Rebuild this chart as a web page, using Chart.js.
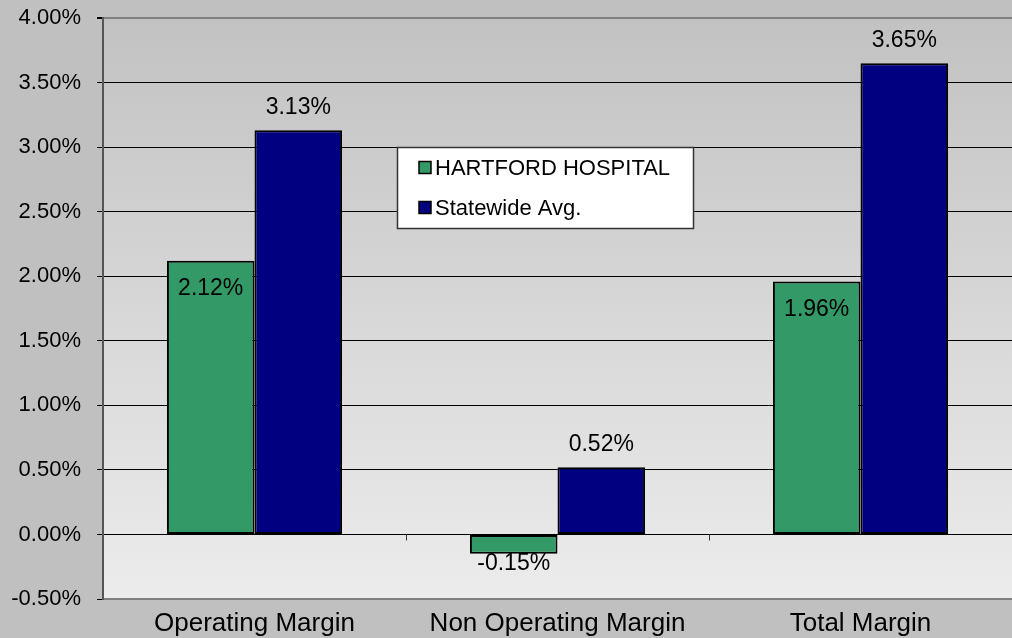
<!DOCTYPE html>
<html>
<head>
<meta charset="utf-8">
<script src="https://cdn.jsdelivr.net/npm/chart.js@4.4.0/dist/chart.umd.min.js"></script>
<style>
  html, body { margin: 0; padding: 0; background: #c0c0c0; }
  #wrap { width: 1012px; height: 638px; }
</style>
</head>
<body>
<div id="wrap"><canvas id="chart" width="1012" height="638"></canvas></div>
<script>
// chart data
const categories = ['Operating Margin', 'Non Operating Margin', 'Total Margin'];
const hospitalValues = [2.12, -0.15, 1.96];
const statewideValues = [3.13, 0.52, 3.65];
const seriesNames = ['HARTFORD HOSPITAL', 'Statewide Avg.'];
const yTicks = [-0.5, 0, 0.5, 1, 1.5, 2, 2.5, 3, 3.5, 4];

const FONT = '"Liberation Sans", Arial, sans-serif';
const fmt = v => v.toFixed(2) + '%';

// gradient plot background
const plotBg = {
    id: 'plotBg',
    beforeDraw(chart) {
        const { ctx, chartArea: a } = chart;
        const g = ctx.createLinearGradient(0, a.top, 0, a.bottom);
        g.addColorStop(0, '#c2c2c2');
        g.addColorStop(1, '#ececec');
        ctx.save();
        ctx.fillStyle = g;
        ctx.fillRect(a.left, a.top, a.right - a.left, a.bottom - a.top);
        ctx.restore();
    }
};

// zero line tick marks between categories (Excel style)
const zeroTicks = {
    id: 'zeroTicks',
    afterDatasetsDraw(chart) {
        const { ctx, scales: { x, y } } = chart;
        const y0 = y.getPixelForValue(0);
        ctx.save();
        ctx.strokeStyle = '#333';
        ctx.lineWidth = 1;
        for (let i = 1; i < categories.length; i++) {
            const px = Math.round((x.getPixelForValue(i - 1) + x.getPixelForValue(i)) / 2) + 0.5;
            ctx.beginPath();
            ctx.moveTo(px, y0);
            ctx.lineTo(px, y0 + 6);
            ctx.stroke();
        }
        ctx.restore();
    }
};

// value labels
const valueLabels = {
    id: 'valueLabels',
    afterDatasetsDraw(chart) {
        const { ctx } = chart;
        ctx.save();
        ctx.font = '23px ' + FONT;
        ctx.fillStyle = '#000';
        ctx.textAlign = 'center';
        ctx.textBaseline = 'middle';
        chart.data.datasets.forEach((ds, di) => {
            chart.getDatasetMeta(di).data.forEach((bar, i) => {
                const v = ds.data[i];
                let ty;
                if (di === 0) {
                    ty = v >= 0 ? bar.y + 28 : bar.y + 10;
                } else {
                    ty = bar.y - 23;
                }
                ctx.fillText(fmt(v), bar.x, ty);
            });
        });
        ctx.restore();
    }
};

// legend box inside the plot
const legendBox = {
    id: 'legendBox',
    afterDraw(chart, args, opts) {
        const { ctx } = chart;
        const { left, top, width, height } = opts;
        ctx.save();
        ctx.fillStyle = '#fff';
        ctx.fillRect(left, top, width, height);
        ctx.strokeStyle = '#333';
        ctx.lineWidth = 1.5;
        ctx.strokeRect(left + 0.5, top + 0.5, width, height);
        ctx.font = '22px ' + FONT;
        ctx.textBaseline = 'middle';
        chart.data.datasets.forEach((ds, i) => {
            const cy = top + 20.5 + i * 40;
            ctx.fillStyle = ds.backgroundColor;
            ctx.fillRect(left + 22, cy - 6, 12, 12);
            ctx.strokeStyle = '#000';
            ctx.lineWidth = 1.5;
            ctx.strokeRect(left + 22, cy - 6, 12, 12);
            ctx.fillStyle = '#000';
            ctx.fillText(ds.label, left + 38, cy + 1);
        });
        ctx.restore();
    }
};

const chart = new Chart(document.getElementById('chart'), {
    type: 'bar',
    data: {
        labels: categories,
        datasets: [{
            label: seriesNames[0],
            data: hospitalValues,
            backgroundColor: '#339966',
            borderColor: '#000',
            borderWidth: 2,
            borderSkipped: false
        }, {
            label: seriesNames[1],
            data: statewideValues,
            backgroundColor: '#000080',
            borderColor: '#000',
            borderWidth: 2,
            borderSkipped: false
        }]
    },
    options: {
        responsive: false,
        animation: false,
        layout: { padding: { top: 18, right: 0, left: 0, bottom: 0 } },
        datasets: { bar: { barPercentage: 1, categoryPercentage: 0.578 } },
        plugins: {
            legend: { display: false },
            tooltip: { enabled: false },
            legendBox: { left: 397, top: 147, width: 296, height: 81 }
        },
        scales: {
            x: {
                grid: { display: false },
                border: { display: true, color: '#808080', width: 2 },
                ticks: { color: '#000', font: { family: FONT, size: 26 }, padding: 1, maxRotation: 0 },
                afterFit(s) { s.height = 39; }
            },
            y: {
                min: -0.5,
                max: 4,
                afterBuildTicks(s) { s.ticks = yTicks.map(v => ({ value: v })); },
                grid: {
                    color: c => c.tick && c.tick.value === 4 ? '#808080' : '#000',
                    lineWidth: c => c.tick && c.tick.value === 4 ? 2 : 1,
                    tickLength: 6,
                    tickColor: '#000'
                },
                border: { display: true, color: '#555', width: 2 },
                ticks: {
                    color: '#000',
                    font: { family: FONT, size: 22 },
                    padding: 16,
                    callback: v => fmt(v)
                },
                afterFit(s) { s.width = 103; s.paddingTop = 0; s.paddingBottom = 0; }
            }
        }
    },
    plugins: [plotBg, zeroTicks, valueLabels, legendBox]
});
</script>
</body>
</html>
